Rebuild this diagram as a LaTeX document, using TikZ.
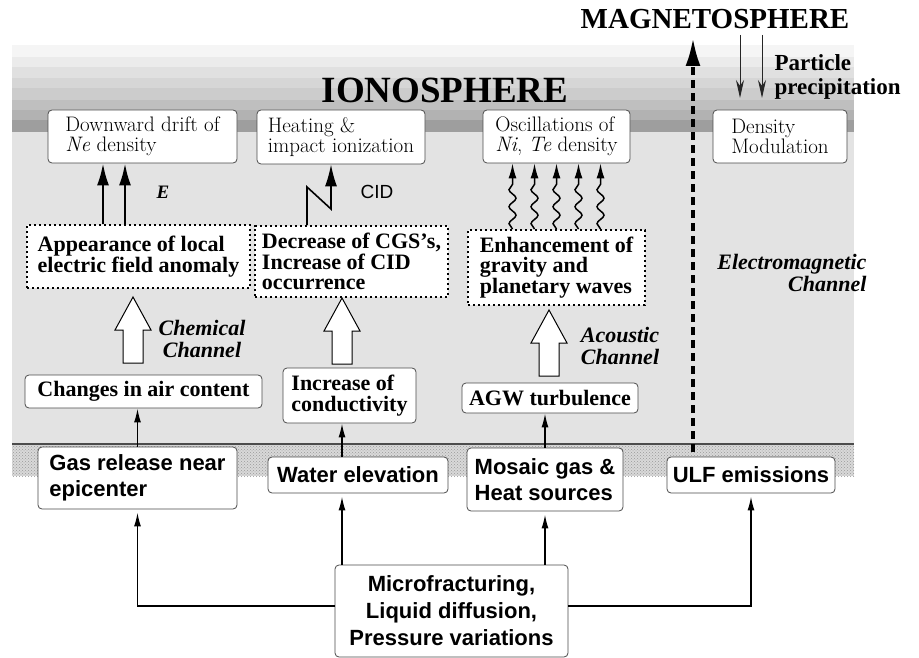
\documentclass[tikz,border=0pt]{standalone}
\usepackage{fontspec}
\newfontfamily\timesf{Liberation Serif}
\newfontfamily\arialf{Liberation Sans}
\usepackage{tikz}
\usetikzlibrary{arrows.meta,patterns,decorations.pathmorphing}
\tikzset{
  layerbox/.style={draw=black!70, line width=0.8pt, rounded corners=4pt, fill=white, align=left, inner sep=0pt, font={\fontsize{21}{20}\selectfont}},
  effectbox/.style={draw, line width=2pt, dash pattern=on 2.4pt off 2.6pt, fill=white, align=left, inner sep=0pt, font={\timesf\bfseries\fontsize{22}{20.5}\selectfont}},
  airbox/.style={layerbox, font={\timesf\bfseries\fontsize{22}{20.5}\selectfont}},
  groundbox/.style={layerbox, font={\arialf\bfseries\fontsize{22}{26}\selectfont}},
  chanlabel/.style={font={\timesf\bfseries\itshape\fontsize{22}{22}\selectfont}},
  link/.style={line width=1.6pt, -{Latex[length=14pt,width=7pt]}},
  bigarrow/.style={line width=2.4pt, -{Latex[length=22pt,width=12pt]}},
  wave/.style={line width=1.5pt, -{Latex[length=15pt,width=8pt]}, decorate, decoration={snake, amplitude=3.5pt, segment length=17pt, post length=18pt}},
  thinarrow/.style={line width=1pt, black!85, -{Stealth[length=18pt,width=8pt]}},
}
\newcommand{\fatarrow}[1]{\draw[fill=white,line width=1pt] (#1) -- ++(18,33) -- ++(-8,0) -- ++(0,33) -- ++(-20,0) -- ++(0,-33) -- ++(-8,0) -- cycle;}

\begin{document}
\begin{tikzpicture}[x=1pt,y=-1pt]
\useasboundingbox (0,0) rectangle (919,658);
\fill[white] (0,0) rectangle (919,658);
% ---- atmosphere and ionosphere layers ----
\fill[black!11] (12,45) rectangle (854,444);
\fill[black!4] (12,45) rectangle (854,57);
\fill[black!8] (12,57) rectangle (854,67);
\fill[black!12] (12,67) rectangle (854,78);
\fill[black!16] (12,78) rectangle (854,88);
\fill[black!20] (12,88) rectangle (854,100);
\fill[black!25] (12,100) rectangle (854,110);
\fill[black!30] (12,110) rectangle (854,120);
\fill[black!38] (12,120) rectangle (854,132);
% ground
\fill[black!15] (12,444) rectangle (854,476);
\fill[pattern=crosshatch dots, pattern color=black!40] (12,444) rectangle (854,476);
\draw[line width=1.5pt, black!70] (12,444) -- (854,444);

% ---- titles ----
\node[font={\timesf\bfseries\fontsize{37}{40}\selectfont}] (iono) at (445,90) {IONOSPHERE};
\node[font={\timesf\bfseries\fontsize{29}{30}\selectfont}] (magneto) at (715,19) {MAGNETOSPHERE};
\node[font={\timesf\bfseries\fontsize{23}{24}\selectfont}, align=left, anchor=west] (precip) at (771,77) {Particle\\precipitation};

% ---- ionosphere effects ----
\node[layerbox, minimum width=189pt, minimum height=53pt] (drift) at (142.5,136.5) {Downward drift of\\\textit{Ne} density};
\node[layerbox, minimum width=168pt, minimum height=54pt] (heat) at (341,137) {Heating \&\\impact ionization};
\node[layerbox, minimum width=147pt, minimum height=53pt] (osc) at (556.5,136.5) {Oscillations of\\\textit{Ni}, \textit{Te} density};
\node[layerbox, minimum width=134pt, minimum height=53pt] (dens) at (780,136.5) {Density\\Modulation};

% ---- atmosphere effects ----
\node[effectbox, minimum width=223pt, minimum height=63pt] (appear) at (138.5,256.5) {Appearance of local\\electric field anomaly};
\node[effectbox, minimum width=193pt, minimum height=71pt] (decr) at (351.5,261.5) {Decrease of CGS’s,\\Increase of CID\\occurrence};
\node[effectbox, minimum width=177pt, minimum height=75pt] (enh) at (556.5,267.5) {Enhancement of\\gravity and\\planetary waves};

\node[airbox, minimum width=237pt, minimum height=33pt] (air) at (143.5,391.5) {Changes in air content};
\node[airbox, minimum width=133pt, minimum height=55pt] (cond) at (349.5,395.5) {Increase of\\conductivity};
\node[airbox, minimum width=176pt, minimum height=30pt] (agw) at (550,398) {AGW turbulence};

% ---- ground sources ----
\node[groundbox, minimum width=199pt, minimum height=62pt] (gas) at (137.5,478) {Gas release near\\epicenter};
\node[groundbox, minimum width=180pt, minimum height=36pt] (water) at (358,475) {Water elevation};
\node[groundbox, minimum width=156pt, minimum height=63pt] (mosaic) at (545,479.5) {Mosaic gas \&\\Heat sources};
\node[groundbox, minimum width=168pt, minimum height=36pt] (ulf) at (751,475) {ULF emissions};
\node[groundbox, align=center, minimum width=233pt, minimum height=92pt, font={\arialf\bfseries\fontsize{22}{27}\selectfont}] (micro) at (451.5,611) {Microfracturing,\\Liquid diffusion,\\Pressure variations};

% ---- channel labels ----
\node[chanlabel, align=center] (chem) at (202,339) {Chemical\\Channel};
\node[chanlabel, align=center] (acou) at (620,346) {Acoustic\\Channel};
\node[chanlabel, align=right, anchor=east] (emc) at (870,273) {Electromagnetic\\Channel};
\node[font={\timesf\bfseries\itshape\fontsize{19}{19}\selectfont}] (efield) at (163,192) {E};
\node[font={\arialf\fontsize{19}{19}\selectfont}] (cid) at (377,192) {CID};

% ---- connectors from the ground ----
\coordinate (wx) at (342,0);
\draw[link] (gas.north) -- (gas.north |- air.south);
\draw[link] (water.north -| wx) -- (cond.south -| wx);
\draw[link] (mosaic.north) -- (mosaic.north |- agw.south);
\draw[link, shorten >=3pt] ([yshift=5pt]micro.west) -| (gas.south);
\draw[link, shorten >=3pt] (micro.north -| wx) -- (water.south -| wx);
\draw[link, shorten >=3pt] (micro.north -| mosaic.south) -- (mosaic.south);
\draw[link, shorten >=3pt] ([yshift=5pt]micro.east) -| (ulf.south);

% channels (hollow arrows)
\coordinate (chemtip) at (133,297);
\coordinate (condtip) at (342,298);
\coordinate (acoutip) at (549,310);
\fatarrow{chemtip}
\fatarrow{condtip}
\fatarrow{acoutip}

% ---- into the ionosphere ----
\coordinate (ex1) at (103,0);
\coordinate (ex2) at (125,0);
\draw[bigarrow] (appear.north -| ex1) -- (drift.south -| ex1);
\draw[bigarrow] (appear.north -| ex2) -- (drift.south -| ex2);
\coordinate (cidx) at (307,0);
\coordinate (cidy) at (331,0);
\draw[line width=1.6pt, -{Latex[length=22pt,width=12pt]}] (decr.north -| cidx) -- ++(0,-38) -- ++(24,22) -- (heat.south -| cidy);
\foreach \dx in {-44,-22,0,22,44}
  \draw[wave] ([xshift=\dx pt]enh.north) -- ([xshift=\dx pt]enh.north |- osc.south);

% electromagnetic channel
\coordinate (magfoot) at (693,452);
\coordinate (magtop) at (693,38);
\draw[line width=3.5pt, dash pattern=on 8pt off 5pt, -{Latex[length=28pt,width=15pt]}] (magfoot) -- (magtop);
% particle precipitation
\coordinate (pa) at (740,35);
\coordinate (pb) at (762,35);
\draw[thinarrow] (pa) -- ++(0,63);
\draw[thinarrow] (pb) -- ++(0,63);
\end{tikzpicture}
\end{document}
